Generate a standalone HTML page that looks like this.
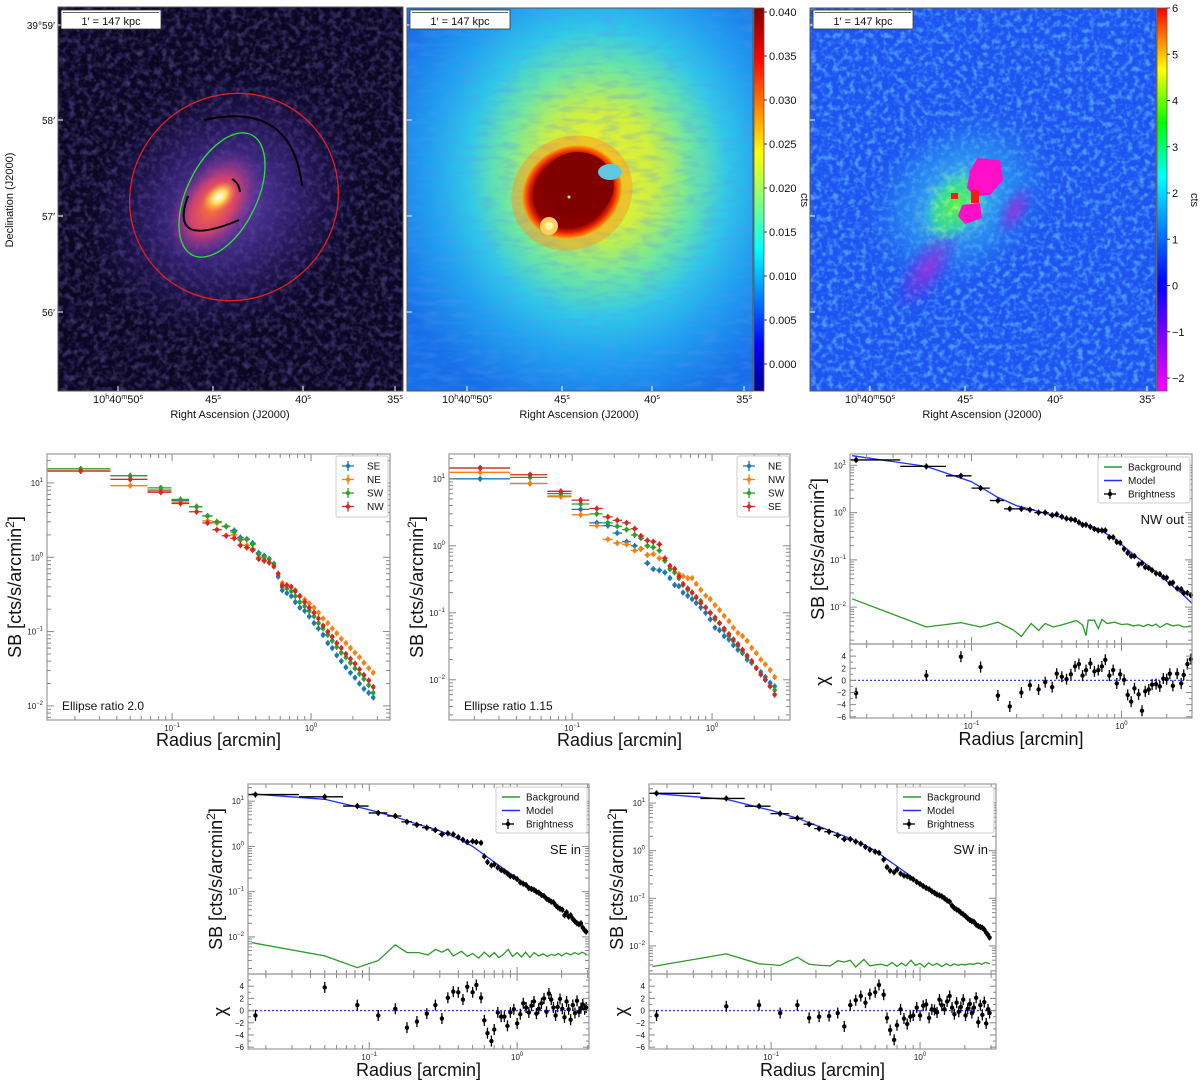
<!DOCTYPE html>
<html><head><meta charset="utf-8"><style>
html,body{margin:0;padding:0;background:#fff;}
svg{display:block;font-family:"Liberation Sans",sans-serif;}
</style></head><body>
<svg id="fig" width="1200" height="1083" viewBox="0 0 1200 1083" xmlns="http://www.w3.org/2000/svg">
<defs>
  <filter id="noisePurple" x="0" y="0" width="100%" height="100%">
    <feTurbulence type="fractalNoise" baseFrequency="0.16" numOctaves="2" seed="3"/>
    <feColorMatrix type="matrix" values="0 0 0 0 0.3  0 0 0 0 0.2  0 0 0 0 0.65  0 0 0 2.2 -1.0"/>
  </filter>
  <filter id="noiseWave" x="0" y="0" width="100%" height="100%">
    <feTurbulence type="fractalNoise" baseFrequency="0.05 0.16" numOctaves="2" seed="7"/>
    <feColorMatrix type="matrix" values="0 0 0 0 0.1  0 0 0 0 0.3  0 0 0 0 0.9  0 0 0 1.6 -0.7"/>
  </filter>
  <filter id="noiseCyan" x="0" y="0" width="100%" height="100%">
    <feTurbulence type="fractalNoise" baseFrequency="0.18" numOctaves="2" seed="11"/>
    <feColorMatrix type="matrix" values="0 0 0 0 0.2  0 0 0 0 0.75  0 0 0 0 1  0 0 0 3 -1.35"/>
  </filter>
  <filter id="noiseDark" x="0" y="0" width="100%" height="100%">
    <feTurbulence type="fractalNoise" baseFrequency="0.17" numOctaves="2" seed="5"/>
    <feColorMatrix type="matrix" values="0 0 0 0 0.05  0 0 0 0 0.03  0 0 0 0 0.2  0 0 0 3 -1.5"/>
  </filter>
  <filter id="noiseGreen" x="0" y="0" width="100%" height="100%">
    <feTurbulence type="fractalNoise" baseFrequency="0.15" numOctaves="2" seed="2"/>
    <feColorMatrix type="matrix" values="0 0 0 0 0.4  0 0 0 0 0.95  0 0 0 0 0.3  0 0 0 3 -1.3"/>
  </filter>
  <radialGradient id="halo1"><stop offset="0" stop-color="#7a4fd0" stop-opacity="0.9"/><stop offset="0.5" stop-color="#4a30a0" stop-opacity="0.55"/><stop offset="1" stop-color="#2a1a70" stop-opacity="0"/></radialGradient>
  <radialGradient id="mid1"><stop offset="0" stop-color="#ff7a30"/><stop offset="0.5" stop-color="#d04070"/><stop offset="1" stop-color="#7030a0" stop-opacity="0"/></radialGradient>
  <radialGradient id="core1"><stop offset="0" stop-color="#ffffff"/><stop offset="0.4" stop-color="#ffe060"/><stop offset="1" stop-color="#ff8030" stop-opacity="0"/></radialGradient>
  <radialGradient id="jet2" cx="0.55" cy="0.43" r="0.65"><stop offset="0" stop-color="#f4f020"/><stop offset="0.25" stop-color="#d0f040"/><stop offset="0.42" stop-color="#70e8a0"/><stop offset="0.58" stop-color="#30c8e8"/><stop offset="0.75" stop-color="#20a0f0"/><stop offset="1" stop-color="#1870e8"/></radialGradient>
  <radialGradient id="red2"><stop offset="0" stop-color="#7a0000"/><stop offset="0.75" stop-color="#8a0000"/><stop offset="0.85" stop-color="#e02000"/><stop offset="0.95" stop-color="#ff8000"/><stop offset="1" stop-color="#ffb000" stop-opacity="0"/></radialGradient>
  <radialGradient id="cyan3"><stop offset="0" stop-color="#40d0f0" stop-opacity="0.9"/><stop offset="0.6" stop-color="#30a0f0" stop-opacity="0.5"/><stop offset="1" stop-color="#2060f0" stop-opacity="0"/></radialGradient>
  <radialGradient id="green3"><stop offset="0" stop-color="#60f040"/><stop offset="0.6" stop-color="#30e090" stop-opacity="0.8"/><stop offset="1" stop-color="#30d0e0" stop-opacity="0"/></radialGradient>
  <radialGradient id="purple3"><stop offset="0" stop-color="#a030e0" stop-opacity="0.9"/><stop offset="1" stop-color="#6020e0" stop-opacity="0"/></radialGradient>
  <radialGradient id="fadeMask"><stop offset="0" stop-color="#fff"/><stop offset="0.6" stop-color="#fff" stop-opacity="0.6"/><stop offset="1" stop-color="#fff" stop-opacity="0"/></radialGradient>
  <mask id="greenMask"><ellipse cx="955" cy="205" rx="40" ry="55" transform="rotate(35 955 205)" fill="url(#fadeMask)"/></mask>
  <linearGradient id="cbJet" x1="0" y1="1" x2="0" y2="0"><stop offset="0" stop-color="#00008f"/><stop offset="0.12" stop-color="#0000ff"/><stop offset="0.37" stop-color="#00ffff"/><stop offset="0.62" stop-color="#ffff00"/><stop offset="0.87" stop-color="#ff0000"/><stop offset="1" stop-color="#800000"/></linearGradient>
  <linearGradient id="cbRain" x1="0" y1="1" x2="0" y2="0"><stop offset="0" stop-color="#ff00ff"/><stop offset="0.14" stop-color="#8000ff"/><stop offset="0.28" stop-color="#0000ff"/><stop offset="0.42" stop-color="#0080ff"/><stop offset="0.56" stop-color="#00ffff"/><stop offset="0.7" stop-color="#00ff00"/><stop offset="0.84" stop-color="#ffff00"/><stop offset="1" stop-color="#ff0000"/></linearGradient>
  <clipPath id="clipImg1"><rect x="58" y="7" width="345" height="384"/></clipPath>
  <clipPath id="clipImg2"><rect x="407" y="8" width="346" height="383"/></clipPath>
  <clipPath id="clipImg3"><rect x="810" y="8" width="346" height="383"/></clipPath>
</defs>

<g clip-path="url(#clipImg1)">
  <rect x="58" y="7" width="345" height="384" fill="#0a0722"/>
  <rect x="58" y="7" width="345" height="384" filter="url(#noisePurple)" opacity="0.45"/>
  <ellipse cx="226" cy="205" rx="150" ry="125" transform="rotate(-40 226 205)" fill="url(#halo1)"/>
  <rect x="58" y="7" width="345" height="384" filter="url(#noiseDark)" opacity="0.6"/>
  <ellipse cx="214" cy="205" rx="62" ry="38" transform="rotate(-55 214 205)" fill="url(#mid1)"/>
  <ellipse cx="219" cy="197" rx="20" ry="13" transform="rotate(-40 219 197)" fill="url(#core1)"/>
  <ellipse cx="234" cy="197" rx="106" ry="102" transform="rotate(-40 234 197)" fill="none" stroke="#e02020" stroke-width="1.3"/>
  <ellipse cx="222" cy="195" rx="67" ry="35" transform="rotate(-64 222 195)" fill="none" stroke="#30e030" stroke-width="1.3"/>
  <path d="M204,120 Q292,100 302,186" fill="none" stroke="#000" stroke-width="2"/>
  <path d="M188,196 Q168,250 239,220" fill="none" stroke="#000" stroke-width="2"/>
  <path d="M232,179 Q239,183 240,192" fill="none" stroke="#000" stroke-width="2"/>
</g>
<rect x="58" y="7" width="345" height="384" fill="none" stroke="#555" stroke-width="1"/>

<g clip-path="url(#clipImg2)">
  <rect x="407" y="8" width="346" height="383" fill="url(#jet2)"/>
  <rect x="407" y="8" width="346" height="383" filter="url(#noiseWave)" opacity="0.5"/>
  <ellipse cx="572" cy="193" rx="62" ry="56" transform="rotate(-30 572 193)" fill="#ff9020" opacity="0.45"/>
  <ellipse cx="572" cy="192" rx="52" ry="46" transform="rotate(-30 572 192)" fill="url(#red2)"/>
  <ellipse cx="578" cy="185" rx="36" ry="33" fill="#800000"/>
  <ellipse cx="610" cy="172" rx="12" ry="8" fill="#60c8e0"/>
  <circle cx="549" cy="226" r="9" fill="#ffd060"/>
  <circle cx="549" cy="226" r="4" fill="#fff8a0"/>
  <circle cx="569" cy="197" r="1.5" fill="#c0ff40"/>
</g>
<rect x="407" y="8" width="346" height="383" fill="none" stroke="#555" stroke-width="1"/>
<rect x="754" y="8" width="10" height="383" fill="url(#cbJet)" stroke="#555" stroke-width="0.8"/>

<g clip-path="url(#clipImg3)">
  <rect x="810" y="8" width="346" height="383" fill="#1e55f2"/>
  <rect x="810" y="8" width="346" height="383" filter="url(#noiseCyan)" opacity="0.5"/>
  <ellipse cx="960" cy="200" rx="110" ry="85" transform="rotate(-40 960 200)" fill="url(#cyan3)"/>
  <ellipse cx="928" cy="268" rx="22" ry="50" transform="rotate(35 928 268)" fill="url(#purple3)"/>
  <ellipse cx="1015" cy="210" rx="15" ry="30" transform="rotate(30 1015 210)" fill="url(#purple3)"/>
  <ellipse cx="955" cy="205" rx="28" ry="42" transform="rotate(35 955 205)" fill="url(#green3)"/>
  <rect x="900" y="140" width="110" height="130" filter="url(#noiseGreen)" opacity="0.7" mask="url(#greenMask)"/>
  <path d="M978,158 L1000,160 L1003,180 L990,195 L975,196 L967,188 L970,170 Z" fill="#ff10c8"/>
  <path d="M962,205 L980,203 L982,218 L965,224 L958,216 Z" fill="#ff10c8"/>
  <rect x="951" y="193" width="7" height="6" fill="#ff1818"/>
  <rect x="971" y="190" width="8" height="13" fill="#ff1818"/>
</g>
<rect x="810" y="8" width="346" height="383" fill="none" stroke="#555" stroke-width="1"/>
<rect x="1157" y="8" width="10" height="383" fill="url(#cbRain)" stroke="#555" stroke-width="0.8"/>

<g id="plots"></g>
</svg>
<script>
const radiusR20 = [0.022,0.05,0.083,0.115,0.15,0.18,0.21,0.245,0.28,0.31,0.345,0.38,0.42,0.46,0.5,0.54,0.58,0.62,0.67,0.72,0.77,0.83,0.9,0.97,1.05,1.13,1.22,1.32,1.42,1.53,1.65,1.78,1.92,2.07,2.23,2.4,2.6,2.8];
const r20SE = [14.5,12.5,8,5.8,4.8,3.6,3.0,2.6,2.3,1.85,1.75,1.55,1.15,1.05,0.95,0.8,0.55,0.36,0.33,0.3,0.25,0.21,0.19,0.16,0.13,0.11,0.09,0.07,0.06,0.048,0.04,0.033,0.028,0.024,0.02,0.017,0.015,0.013];
const r20NE = [14.5,9.2,7.8,5.5,4.8,3.1,2.9,2.6,2.0,1.7,1.45,1.3,1.0,0.9,0.85,0.78,0.6,0.45,0.42,0.4,0.36,0.3,0.27,0.24,0.21,0.18,0.15,0.13,0.11,0.095,0.08,0.07,0.06,0.052,0.045,0.038,0.032,0.028];
const r20SW = [15.5,12.5,8.6,6.0,4.8,3.6,3.0,2.6,2.2,1.75,1.75,1.5,1.1,1.0,0.95,0.82,0.6,0.4,0.38,0.35,0.3,0.25,0.22,0.19,0.16,0.13,0.11,0.09,0.075,0.062,0.052,0.045,0.038,0.032,0.027,0.023,0.019,0.015];
const r20NW = [14.5,11.2,7.5,5.3,4.1,2.9,2.35,1.95,1.8,1.45,1.35,1.25,0.95,0.9,0.85,0.75,0.6,0.42,0.42,0.4,0.35,0.3,0.25,0.21,0.18,0.15,0.12,0.1,0.085,0.07,0.06,0.05,0.043,0.037,0.031,0.026,0.022,0.018];
const r115NE = [10,8.5,5.5,3.5,2.2,2.0,1.55,1.15,1.0,0.9,0.55,0.45,0.43,0.4,0.33,0.26,0.25,0.2,0.18,0.16,0.14,0.12,0.1,0.08,0.06,0.055,0.045,0.04,0.033,0.028,0.025,0.02,0.018,0.015,0.013,0.011,0.009,0.008];
const r115NW = [12.5,8.5,5.4,2.9,2.0,1.25,1.1,1.05,0.85,0.9,0.73,0.75,0.65,0.6,0.5,0.45,0.38,0.35,0.33,0.33,0.27,0.22,0.18,0.16,0.13,0.11,0.09,0.075,0.06,0.05,0.045,0.038,0.03,0.025,0.02,0.017,0.014,0.011];
const r115SW = [14.5,10.5,6.0,4.2,3.0,2.2,1.95,1.75,1.45,1.3,1.0,0.95,0.85,0.6,0.45,0.4,0.33,0.26,0.22,0.2,0.17,0.15,0.12,0.1,0.08,0.07,0.055,0.045,0.038,0.032,0.026,0.022,0.018,0.015,0.012,0.01,0.008,0.007];
const r115SE = [14.5,11.5,6.5,4.8,3.6,2.7,2.4,2.2,1.8,1.4,1.2,1.15,1.05,0.65,0.5,0.45,0.35,0.27,0.23,0.2,0.17,0.14,0.12,0.1,0.085,0.07,0.058,0.048,0.04,0.034,0.028,0.023,0.019,0.015,0.012,0.01,0.008,0.006];
const radiusNWout = [0.017,0.05,0.085,0.115,0.15,0.18,0.215,0.245,0.28,0.31,0.345,0.37,0.4,0.43,0.46,0.49,0.52,0.55,0.58,0.62,0.66,0.7,0.74,0.78,0.83,0.88,0.93,0.98,1.04,1.1,1.16,1.22,1.3,1.37,1.44,1.52,1.6,1.7,1.8,1.9,2.0,2.1,2.2,2.35,2.5,2.6,2.75,2.9];
const sbNWout = [13,9.5,6,3.3,1.8,1.2,1.2,1.15,1.0,1.0,0.88,0.92,0.82,0.75,0.72,0.7,0.62,0.55,0.55,0.5,0.45,0.42,0.42,0.42,0.3,0.3,0.24,0.23,0.17,0.14,0.12,0.12,0.08,0.085,0.07,0.067,0.06,0.052,0.05,0.043,0.042,0.032,0.033,0.025,0.024,0.02,0.02,0.018];
const chiNWout = [-2.1,0.8,3.9,2.2,-2.5,-4.3,-2,-0.8,-1.5,-0.3,-1.1,1.1,0.6,0.2,1,2.3,2.7,0.8,1.7,2.8,1.5,1.7,2.3,3.4,0.8,1.7,-0.5,1,0.1,-2.4,-3.5,-1.3,-2.3,-5,-1.8,-1.5,-0.7,-0.6,-1,0.3,0.2,1.1,-0.9,1.1,-0.5,0.9,2.7,3.5];
const modelRNWout = [0.016,0.05,0.1,0.15,0.2,0.3,0.5,0.7,0.9,1.2,1.6,2.0,2.5,2.95];
const modelNWout = [16,9.5,4.5,2.1,1.4,1.0,0.65,0.45,0.28,0.13,0.065,0.035,0.02,0.012];
const bgRNWout = [0.016,0.05,0.085,0.115,0.15,0.19,0.215,0.25,0.28,0.31,0.35,0.4,0.45,0.5,0.55,0.58,0.6,0.66,0.7,0.74,0.8,0.9,1.0,1.1,1.2,1.3,1.4,1.5,1.6,1.7,1.8,2.0,2.2,2.4,2.6,2.9];
const bgNWout = [0.015,0.0038,0.0047,0.0038,0.0048,0.0033,0.0024,0.0045,0.0032,0.0045,0.0038,0.0042,0.0047,0.0052,0.0042,0.0025,0.0053,0.0053,0.0035,0.0055,0.0045,0.0048,0.0043,0.0044,0.004,0.0042,0.0039,0.0043,0.004,0.0044,0.0037,0.0045,0.004,0.0042,0.0038,0.0039];
const radiusIn = [0.017,0.05,0.083,0.115,0.15,0.18,0.21,0.245,0.28,0.31,0.34,0.37,0.4,0.43,0.46,0.5,0.53,0.57,0.6,0.63,0.67,0.7,0.74,0.78,0.82,0.86,0.9,0.95,1.0,1.05,1.1,1.15,1.2,1.25,1.3,1.35,1.4,1.46,1.52,1.58,1.64,1.7,1.76,1.82,1.88,1.95,2.02,2.09,2.16,2.23,2.3,2.38,2.46,2.54,2.62,2.7,2.78,2.86,2.93];
const sbSEin = [14,12.5,7.8,5.5,4.7,3.5,3.0,2.6,2.3,1.85,1.95,1.85,1.6,1.4,1.25,1.3,1.25,1.2,0.6,0.45,0.38,0.4,0.34,0.3,0.28,0.25,0.22,0.21,0.19,0.16,0.15,0.14,0.12,0.115,0.11,0.1,0.095,0.085,0.08,0.07,0.065,0.06,0.058,0.05,0.045,0.042,0.04,0.03,0.035,0.028,0.03,0.025,0.022,0.02,0.019,0.02,0.016,0.014,0.013];
const chiSEin = [-0.8,3.8,0.9,-0.8,0.3,-2.8,-1.8,-0.5,0.9,-1.3,2.1,3.1,3,1.8,3.9,3.0,4.2,2.1,-1.6,-3.7,-5,-3.1,-0.3,-1,-1,-2.5,-0.3,0.2,-2.1,-0.6,1.2,0.5,-0.3,0.8,1.5,-0.5,0.3,1.2,2.0,-0.2,2.8,1.8,0.5,-0.8,0.6,1.9,0.3,-1.1,1.5,0.2,-1.5,0.9,-0.4,1.6,-0.2,0.4,1.0,0.2,0.5];
const sbSWin = [16,12.5,8.6,6,4.8,3.6,2.9,2.5,2.1,1.75,1.75,1.55,1.4,1.2,1.05,0.95,0.9,0.65,0.45,0.38,0.35,0.4,0.33,0.3,0.29,0.27,0.25,0.22,0.2,0.18,0.165,0.155,0.14,0.13,0.12,0.115,0.11,0.1,0.09,0.085,0.07,0.062,0.058,0.055,0.05,0.046,0.042,0.038,0.035,0.033,0.032,0.028,0.026,0.025,0.024,0.022,0.019,0.017,0.015];
const chiSWin = [-0.8,0.7,0.9,-0.4,0.9,-1.2,-1.0,-0.9,-0.4,-2.6,0.9,1.7,2.4,1.3,2.7,3.0,4.2,2.6,-1.2,-3.2,-4.8,-2.4,0.2,-1.3,-2.2,-1.0,-0.8,0.5,-0.8,0.8,1.0,-1.2,0.2,0.1,-0.3,1.8,0.9,0.2,1.5,2.4,0.5,-0.6,1.3,-0.2,0.6,1.8,-0.8,0.3,1.1,-0.4,0.5,2.1,-1.9,0.9,-0.7,1.4,-2.1,0.2,-0.4];
const modelRIn = [0.016,0.05,0.1,0.15,0.2,0.3,0.4,0.5,0.6,0.8,1.0,1.5,2.0,2.5,2.95];
const modelSEin = [14.5,11,6.5,4.5,3.3,2.2,1.5,1.0,0.65,0.33,0.2,0.08,0.04,0.022,0.013];
const modelSWin = [16,12,7,4.8,3.4,2.1,1.45,1.0,0.66,0.35,0.21,0.085,0.045,0.026,0.016];
const bgRIn = [0.016,0.05,0.083,0.115,0.15,0.18,0.215,0.25,0.28,0.31,0.34,0.37,0.42,0.46,0.5,0.55,0.6,0.65,0.7,0.75,0.8,0.87,0.93,1.0,1.07,1.14,1.22,1.3,1.4,1.5,1.6,1.7,1.8,1.9,2.0,2.15,2.3,2.45,2.6,2.75,2.95];
const bgSEin = [0.0075,0.0038,0.0021,0.003,0.0067,0.0045,0.0045,0.004,0.0053,0.0046,0.0054,0.0038,0.0048,0.0037,0.0043,0.0034,0.0046,0.0036,0.0045,0.0035,0.004,0.0053,0.0037,0.0045,0.0036,0.0046,0.0035,0.0045,0.0038,0.0042,0.0037,0.0041,0.0039,0.0043,0.0038,0.0044,0.004,0.0045,0.0041,0.0046,0.0041];
const bgSWin = [0.0037,0.0068,0.0042,0.0039,0.0058,0.0041,0.0039,0.0038,0.0049,0.0046,0.005,0.0036,0.0052,0.0038,0.004,0.0041,0.0038,0.0045,0.0037,0.0044,0.0038,0.005,0.0039,0.0043,0.0036,0.0044,0.0039,0.0043,0.0037,0.0042,0.0038,0.0042,0.0039,0.0041,0.004,0.0042,0.0041,0.0044,0.0041,0.0045,0.0042];
const raTickLabels = ["10h40m50s","45s","40s","35s"];
const decTickLabels = ["39°59′","58′","57′","56′"];
const cbUnsharpTicks = ["0.040","0.035","0.030","0.025","0.020","0.015","0.010","0.005","0.000"];
const cbResidTicks = ["6","5","4","3","2","1","0","−1","−2"];

const NS = "http://www.w3.org/2000/svg";
const root = document.getElementById('plots');
function mk(tag, attrs, parent){
  const e = document.createElementNS(NS, tag);
  for (const k in attrs) e.setAttribute(k, attrs[k]);
  (parent || root).appendChild(e);
  return e;
}
function txt(x, y, s, size, anchor, parent, extra){
  const t = mk('text', Object.assign({x:x, y:y, 'font-size':size, 'text-anchor':anchor||'start', fill:'#111'}, extra||{}), parent);
  t.textContent = s;
  return t;
}
const COL = {SE:'#1f77b4', NE:'#ff7f0e', SW:'#2ca02c', NW:'#d62728'};

function imageAxes(ox, name, showDec){
  const g = mk('g', {});
  
  
  const raX = [118, 213, 303, 395];
  raTickLabels.forEach((s, i) => {
    const x = raX[i] + ox;
    mk('line', {x1:x, y1:391, x2:x, y2:386, stroke:'#fff', 'stroke-width':1}, g);
    const t = mk('text', {x:x, y:403, 'font-size':11, 'text-anchor':'middle', fill:'#111'}, g);
    if (i === 0) {
      t.innerHTML = '10<tspan dy="-4" font-size="7">h</tspan><tspan dy="4">40</tspan><tspan dy="-4" font-size="7">m</tspan><tspan dy="4">50</tspan><tspan dy="-4" font-size="7">s</tspan>';
    } else {
      t.innerHTML = s.replace('s','') + '<tspan dy="-4" font-size="7">s</tspan>';
    }
  });
  const lab = txt(230 + ox, 418, 'Right Ascension (J2000)', 11, 'middle', g);
  
  
  const decY = [25, 120, 216, 312];
  decTickLabels.forEach((s, i) => {
    mk('line', {x1:58+ox, y1:decY[i], x2:63+ox, y2:decY[i], stroke:'#fff', 'stroke-width':1}, g);
    if (showDec) txt(55, decY[i] + 4, s, 10, 'end', g);
  });
  if (showDec) {
    const d = txt(0, 0, 'Declination (J2000)', 11, 'middle', g, {transform:'translate(13 200) rotate(-90)'});
    
    
  }
  const sb = mk('g', {}, g);
  
  
  mk('rect', {x:61+ox, y:10, width:100, height:19, fill:'#fff', stroke:'#333', 'stroke-width':0.8}, sb);
  mk('line', {x1:63+ox, y1:12.5, x2:159+ox, y2:12.5, stroke:'#333', 'stroke-width':0.8}, sb);
  txt(111+ox, 25, '1′ = 147 kpc', 11, 'middle', sb);
}
imageAxes(0, 'xray-image', true);
imageAxes(349, 'unsharp-image', false);
imageAxes(752, 'residual-image', false);

function colorbar(x, y0, y1, labels, name, cx){
  const g = mk('g', {});
  
  
  labels.forEach((s, i) => {
    const y = y0 + (y1 - y0) * i / (labels.length - 1);
    mk('line', {x1:x, y1:y, x2:x+3, y2:y, stroke:'#333'}, g);
    txt(x + 5, y + 4, s, 11, 'start', g);
  });
  const c = txt(0, 0, 'cts', 11, 'middle', g, {transform:'translate(' + cx + ' 200) rotate(90)'});
  
  
}
colorbar(764, 12, 364, cbUnsharpTicks, 'colorbar-unsharp-ticks', 801);
colorbar(1167, 8, 378, cbResidTicks, 'colorbar-residual-ticks', 1191);

function logAxes(box, xl, yl){
  return {
    sx: v => box.x0 + (Math.log10(v) - xl[0]) / (xl[1] - xl[0]) * (box.x1 - box.x0),
    sy: v => box.y1 - (Math.log10(v) - yl[0]) / (yl[1] - yl[0]) * (box.y1 - box.y0),
    box: box, xl: xl, yl: yl
  };
}
function supLabel(g, x, y, exp, anchor){
  const t = mk('text', {x:x, y:y, 'font-size':8, 'text-anchor':anchor, fill:'#222'}, g);
  t.innerHTML = '10<tspan dy="-4" font-size="6">' + (exp < 0 ? '−' + (-exp) : exp) + '</tspan>';
}
function logTicksX(g, ax, yTop, yBot, labels){
  const [lo, hi] = ax.xl;
  for (let d = Math.floor(lo); d <= Math.ceil(hi); d++) {
    for (let m = 1; m <= 9; m++) {
      const v = m * Math.pow(10, d), lv = Math.log10(v);
      if (lv < lo || lv > hi) continue;
      const x = ax.sx(v), L = m === 1 ? 7 : 4;
      mk('line', {x1:x, y1:yBot, x2:x, y2:yBot - L, stroke:'#888', 'stroke-width':1}, g);
      mk('line', {x1:x, y1:yTop, x2:x, y2:yTop + L, stroke:'#888', 'stroke-width':1}, g);
      if (m === 1 && labels) supLabel(g, x, yBot + 11, d, 'middle');
    }
  }
}
function logTicksY(g, ax){
  const [lo, hi] = ax.yl, b = ax.box;
  for (let d = Math.floor(lo); d <= Math.ceil(hi); d++) {
    for (let m = 1; m <= 9; m++) {
      const v = m * Math.pow(10, d), lv = Math.log10(v);
      if (lv < lo || lv > hi) continue;
      const y = ax.sy(v), L = m === 1 ? 7 : 4;
      mk('line', {x1:b.x0, y1:y, x2:b.x0 + L, y2:y, stroke:'#888', 'stroke-width':1}, g);
      mk('line', {x1:b.x1, y1:y, x2:b.x1 - L, y2:y, stroke:'#888', 'stroke-width':1}, g);
      if (m === 1) supLabel(g, b.x0 - 4, y + 3, d, 'end');
    }
  }
}
function xEdges(rs, i){
  const lo = i > 0 ? (rs[i-1] + rs[i]) / 2 : rs[0] - (rs[1] - rs[0]) / 2;
  const hi = i < rs.length - 1 ? (rs[i] + rs[i+1]) / 2 : rs[i] + (rs[i] - rs[i-1]) / 2;
  return [Math.max(lo, 1e-3), hi];
}
function errSeries(g, ax, rs, vals, color, name, noX, yfn, dy){
  const s = mk('g', {}, g);
  
  
  const b = ax.box;
  const n = Math.min(rs.length, vals.length);
  for (let i = 0; i < n; i++) {
    const x = ax.sx(rs[i]);
    const y = yfn(vals[i]);
    const e = dy(vals[i]);
    if (!noX) {
      const [l, h] = xEdges(rs, i);
      const xl = Math.max(ax.sx(l), b.x0), xh = Math.min(ax.sx(h), b.x1);
      mk('line', {x1:xl, y1:y, x2:xh, y2:y, stroke:color, 'stroke-width':1.3}, s);
    }
    mk('line', {x1:x, y1:y - e, x2:x, y2:y + e, stroke:color, 'stroke-width':1.3}, s);
    mk('circle', {cx:x, cy:y, r:2.2, fill:color}, s);
  }
}
function lineSeries(g, ax, rs, vals, color, name){
  const pts = rs.map((r, i) => ax.sx(r).toFixed(1) + ',' + ax.sy(vals[i]).toFixed(1)).join(' ');
  const p = mk('polyline', {points:pts, fill:'none', stroke:color, 'stroke-width':1.3}, g);
  
  
}
function frame(g, b){
  mk('rect', {x:b.x0, y:b.y0, width:b.x1 - b.x0, height:b.y1 - b.y0, fill:'none', stroke:'#999', 'stroke-width':1.2}, g);
}
function yTitle(g, x, y){
  const t = mk('text', {'font-size':18, 'text-anchor':'middle', fill:'#111', transform:'translate(' + x + ' ' + y + ') rotate(-90)'}, g);
  t.innerHTML = 'SB [cts/s/arcmin<tspan dy="-7" font-size="12">2</tspan><tspan dy="7">]</tspan>';
  
  
}
function xTitle(g, x, y){
  const t = txt(x, y, 'Radius [arcmin]', 18, 'middle', g);
  
  
}
function legendBox(g, x0, y0, w, h, entries, kind){
  const lg = mk('g', {}, g);
  
  
  mk('rect', {x:x0, y:y0, width:w, height:h, fill:'#fff', stroke:'#ccc', 'stroke-width':1, rx:2}, lg);
  entries.forEach((e, i) => {
    const y = y0 + 10 + i * 13.5;
    const le = mk('g', {}, lg);
    
    
    if (e.type === 'line') {
      mk('line', {x1:x0 + 6, y1:y, x2:x0 + 24, y2:y, stroke:e.color, 'stroke-width':1.5}, le);
    } else {
      mk('line', {x1:x0 + 6, y1:y, x2:x0 + 18, y2:y, stroke:e.color, 'stroke-width':1.3}, le);
      mk('line', {x1:x0 + 12, y1:y - 5, x2:x0 + 12, y2:y + 5, stroke:e.color, 'stroke-width':1.3}, le);
      mk('circle', {cx:x0 + 12, cy:y, r:2.2, fill:e.color}, le);
    }
    txt(x0 + (kind === 'fit' ? 30 : 31), y + 3.5, e.label, 10, 'start', le);
  });
}

function comparePlot(name, box, xl, yl, series, note, legendX){
  const g = mk('g', {});
  
  
  const ax = logAxes(box, xl, yl);
  const dy = v => 3;
  series.forEach(s => errSeries(g, ax, radiusR20, s.vals, s.color, 'series-' + s.label.toLowerCase(), false, ax.sy, dy));
  frame(g, box);
  logTicksX(g, ax, box.y0, box.y1, true);
  logTicksY(g, ax);
  legendBox(g, legendX, 456, 52, 61, series.map(s => ({label:s.label, color:s.color, type:'err'})), 'cmp');
  const n = txt(box.x0 + 15, 710, note, 12, 'start', g);
  
  
  yTitle(g, box.x0 - 26, (box.y0 + box.y1) / 2);
  xTitle(g, (box.x0 + box.x1) / 2, 746);
}
comparePlot('profile-ellipse-ratio-2', {x0:47, x1:390, y0:454, y1:720}, [-1.9, 0.568], [-2.19, 1.39],
  [{label:'SE', vals:r20SE, color:COL.SE}, {label:'NE', vals:r20NE, color:COL.NE}, {label:'SW', vals:r20SW, color:COL.SW}, {label:'NW', vals:r20NW, color:COL.NW}],
  'Ellipse ratio 2.0', 336);
comparePlot('profile-ellipse-ratio-1-15', {x0:449, x1:790, y0:454, y1:720}, [-1.88, 0.557], [-2.6, 1.37],
  [{label:'NE', vals:r115NE, color:COL.SE}, {label:'NW', vals:r115NW, color:COL.NE}, {label:'SW', vals:r115SW, color:COL.SW}, {label:'SE', vals:r115SE, color:COL.NW}],
  'Ellipse ratio 1.15', 737);

function fitPlot(name, box, ySplit, xl, yl, chiL, data, label, legX){
  const g = mk('g', {});
  
  
  const mainBox = {x0:box.x0, x1:box.x1, y0:box.y0, y1:ySplit};
  const ax = logAxes(mainBox, xl, yl);
  lineSeries(g, ax, data.bgR, data.bg, '#2a9a2a', 'background-line');
  lineSeries(g, ax, data.mR, data.model, '#1f2fff', 'model-line');
  errSeries(g, ax, data.r, data.sb, '#000', 'brightness-points', false, ax.sy, v => 3);
  frame(g, mainBox);
  logTicksX(g, ax, mainBox.y0, mainBox.y1, false);
  logTicksY(g, ax);
  legendBox(g, legX, mainBox.y0 + 3, box.x1 - legX - 2, 46,
    [{label:'Background', color:'#2a9a2a', type:'line'}, {label:'Model', color:'#1f2fff', type:'line'}, {label:'Brightness', color:'#000', type:'err'}], 'fit');
  const lt = txt(box.x1 - 8, mainBox.y0 + 70, label, 13, 'end', g);
  
  
  const rb = {x0:box.x0, x1:box.x1, y0:ySplit, y1:box.y1};
  const cy = v => rb.y0 + (chiL[1] - v) / (chiL[1] - chiL[0]) * (rb.y1 - rb.y0);
  const rax = {sx:ax.sx, box:rb, xl:xl};
  const zl = mk('line', {x1:rb.x0, y1:cy(0), x2:rb.x1, y2:cy(0), stroke:'#3040ff', 'stroke-width':1.3, 'stroke-dasharray':'2,2'}, g);
  
  
  errSeries(g, rax, data.r, data.chi, '#000', 'chi-points', true, cy, v => 5.5);
  frame(g, rb);
  logTicksX(g, rax, rb.y0, rb.y1, true);
  [-6, -4, -2, 0, 2, 4].forEach(v => {
    const y = cy(v);
    mk('line', {x1:rb.x0, y1:y, x2:rb.x0 + 6, y2:y, stroke:'#888'}, g);
    mk('line', {x1:rb.x1, y1:y, x2:rb.x1 - 6, y2:y, stroke:'#888'}, g);
    txt(rb.x0 - 4, y + 3, v < 0 ? '−' + (-v) : String(v), 8, 'end', g);
  });
  [-5, -3, -1, 1, 3, 5].forEach(v => {
    const y = cy(v);
    mk('line', {x1:rb.x0, y1:y, x2:rb.x0 + 3, y2:y, stroke:'#888'}, g);
    mk('line', {x1:rb.x1, y1:y, x2:rb.x1 - 3, y2:y, stroke:'#888'}, g);
  });
  yTitle(g, box.x0 - 26, (mainBox.y0 + mainBox.y1) / 2);
  const chiT = txt(0, 0, 'χ', 18, 'middle', g, {transform:'translate(' + (box.x0 - 22) + ' ' + ((rb.y0 + rb.y1) / 2) + ') rotate(-90)'});
  
  
  xTitle(g, (box.x0 + box.x1) / 2, box.y1 + 27);
}
fitPlot('profile-nw-out', {x0:850, x1:1192, y0:454, y1:718}, 644, [-1.81, 0.47], [-2.78, 1.24], [-6.2, 6],
  {r:radiusNWout, sb:sbNWout, chi:chiNWout, mR:modelRNWout, model:modelNWout, bgR:bgRNWout, bg:bgNWout}, 'NW out', 1098);
fitPlot('profile-se-in', {x0:248, x1:589, y0:784, y1:1049}, 974, [-1.82, 0.486], [-2.82, 1.38], [-6.3, 6],
  {r:radiusIn, sb:sbSEin, chi:chiSEin, mR:modelRIn, model:modelSEin, bgR:bgRIn, bg:bgSEin}, 'SE in', 496);
fitPlot('profile-sw-in', {x0:649, x1:996, y0:784, y1:1049}, 974, [-1.82, 0.51], [-2.59, 1.4], [-6.3, 6],
  {r:radiusIn, sb:sbSWin, chi:chiSWin, mR:modelRIn, model:modelSWin, bgR:bgRIn, bg:bgSWin}, 'SW in', 897);
</script>
</body></html>
